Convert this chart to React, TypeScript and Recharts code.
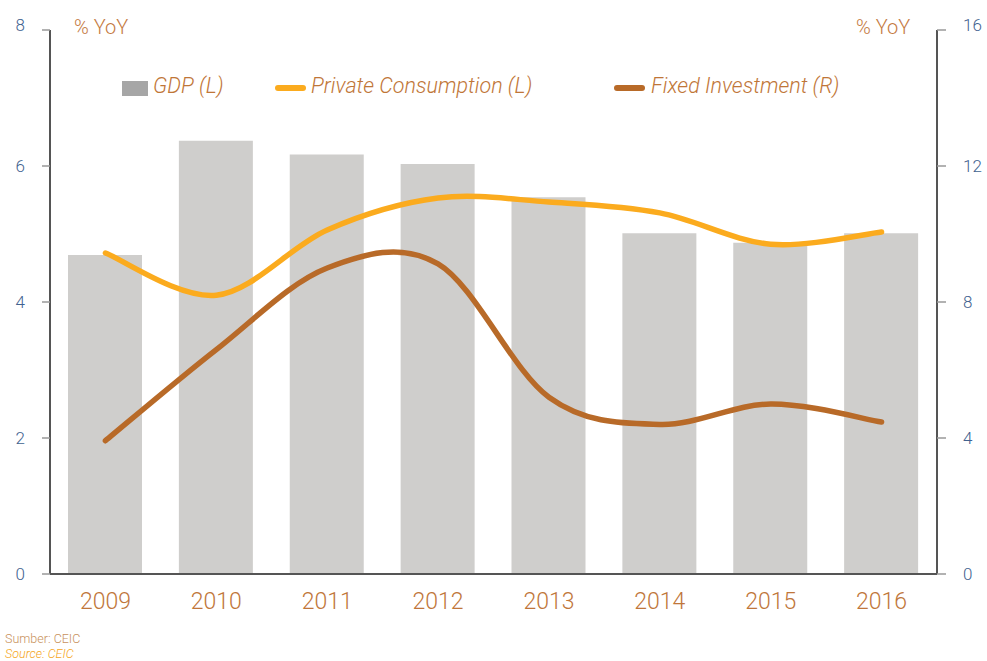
import React from "react"
import { ComposedChart, Bar, Line, XAxis, YAxis, Legend } from "recharts"

const years = ["2009", "2010", "2011", "2012", "2013", "2014", "2015", "2016"]
const gdp = [4.69, 6.37, 6.17, 6.03, 5.54, 5.01, 4.87, 5.01]
const consumption = [4.72, 4.1, 5.06, 5.53, 5.47, 5.31, 4.85, 5.03]
const fixedInvestment = [3.92, 6.6, 9.0, 9.12, 5.2, 4.4, 5.0, 4.47]
const leftTicks = [0, 2, 4, 6, 8]
const rightTicks = [0, 4, 8, 12, 16]

const FONT = "Roboto, 'Helvetica Neue', Arial, sans-serif"
const BROWN_TEXT = "#c0763a"
const AXIS_BLUE = "#41628f"
const GDP_COLOR = "#cfcecc"
const CONS_COLOR = "#fbab1e"
const FIXED_COLOR = "#b86a28"

const data = years.map((y, i) => ({
  year: y,
  gdp: gdp[i],
  consumption: consumption[i],
  fixed: fixedInvestment[i],
}))

// excel-like smoothed line (catmull-rom through the points)
const smoothCurve: any = (context: any) => {
  let pts: number[][] = []
  return {
    areaStart() {},
    areaEnd() {},
    lineStart() {
      pts = []
    },
    point(x: number, y: number) {
      pts.push([+x, +y])
    },
    lineEnd() {
      if (!pts.length) return
      context.moveTo(pts[0][0], pts[0][1])
      for (let i = 0; i < pts.length - 1; i++) {
        const p0 = pts[i - 1] || pts[i]
        const p1 = pts[i]
        const p2 = pts[i + 1]
        const p3 = pts[i + 2] || p2
        context.bezierCurveTo(
          p1[0] + (p2[0] - p0[0]) / 6,
          p1[1] + (p2[1] - p0[1]) / 6,
          p2[0] - (p3[0] - p1[0]) / 6,
          p2[1] - (p3[1] - p1[1]) / 6,
          p2[0],
          p2[1]
        )
      }
    },
  }
}

function AxisTick(props: any) {
  const { x, y, payload, textAnchor, max } = props
  const shift = payload.value === max ? -5 : 0
  return (
    <text x={x} y={y + shift} dy="0.355em" textAnchor={textAnchor} fill={AXIS_BLUE} fontSize={17} fontFamily={FONT} fontWeight={300}>
      {payload.value}
    </text>
  )
}

function LegendBox() {
  const txt = { fill: "#bf7638", fontSize: 21.5, fontStyle: "italic", fontFamily: FONT, fontWeight: 300 } as const
  return (
    <svg width={987} height={110} style={{ display: "block" }}>
      <rect x={122} y={81} width={26} height={15} fill="#a6a6a6" />
      <text x={153} y={93} {...txt}>GDP (L)</text>
      <line x1={278} y1={88} x2={303} y2={88} stroke={CONS_COLOR} strokeWidth={6} strokeLinecap="round" />
      <text x={311} y={93} {...txt}>Private Consumption (L)</text>
      <line x1={617} y1={88} x2={642} y2={88} stroke={FIXED_COLOR} strokeWidth={6} strokeLinecap="round" />
      <text x={651} y={93} {...txt}>Fixed Investment (R)</text>
    </svg>
  )
}

export default function App() {
  return (
    <div style={{ position: "relative", width: 987, height: 661, overflow: "hidden", background: "#fff" }}>
      <style>{`body{margin:0}`}</style>
      <ComposedChart width={987} height={661} data={data} margin={{ top: 30, right: 0, bottom: 47, left: 0 }}>
        <XAxis
          dataKey="year"
          axisLine={{ stroke: "#555", strokeWidth: 2 }}
          tickLine={false}
          tickSize={0}
          tickMargin={19}
          height={40}
          tick={{ fill: BROWN_TEXT, fontSize: 23, fontFamily: FONT, fontWeight: 300 }}
          interval={0}
        />
        <YAxis
          yAxisId="left"
          domain={[0, 8]}
          ticks={leftTicks}
          width={50}
          axisLine={{ stroke: "#555", strokeWidth: 2 }}
          tickLine={{ stroke: "#999", strokeWidth: 1.5 }}
          tickSize={8}
          tickMargin={17}
          tick={<AxisTick max={8} />}
        />
        <YAxis
          yAxisId="right"
          orientation="right"
          domain={[0, 16]}
          ticks={rightTicks}
          width={50}
          axisLine={{ stroke: "#555", strokeWidth: 2 }}
          tickLine={{ stroke: "#999", strokeWidth: 1.5 }}
          tickSize={9}
          tickMargin={17}
          tick={<AxisTick max={16} />}
        />
        <Legend
          layout="horizontal"
          verticalAlign="middle"
          align="center"
          wrapperStyle={{ top: 0, left: 0, width: 987, height: 110 }}
          content={() => <LegendBox />}
        />
        <Bar yAxisId="left" dataKey="gdp" name="GDP (L)" fill={GDP_COLOR} barSize={74} isAnimationActive={false} />
        <Line
          yAxisId="left"
          dataKey="consumption"
          name="Private Consumption (L)"
          type={smoothCurve}
          stroke={CONS_COLOR}
          strokeWidth={5.5}
          strokeLinecap="round"
          dot={false}
          activeDot={false}
          isAnimationActive={false}
        />
        <Line
          yAxisId="right"
          dataKey="fixed"
          name="Fixed Investment (R)"
          type={smoothCurve}
          stroke={FIXED_COLOR}
          strokeWidth={5.5}
          strokeLinecap="round"
          dot={false}
          activeDot={false}
          isAnimationActive={false}
        />
      </ComposedChart>
      <svg width={987} height={661} style={{ position: "absolute", top: 0, left: 0, pointerEvents: "none" }}>
        <text x={74} y={34} fill="#c47a3f" fontSize={20} fontFamily={FONT} fontWeight={300}>% YoY</text>
        <text x={856} y={34} fill="#c47a3f" fontSize={20} fontFamily={FONT} fontWeight={300}>% YoY</text>
        <text x={5} y={643} fill="#c8915c" fontSize={12.5} fontFamily={FONT} fontWeight={300}>Sumber: CEIC</text>
        <text x={5} y={658} fill="#f5a623" fontSize={12.5} fontStyle="italic" fontFamily={FONT} fontWeight={300}>Source: CEIC</text>
      </svg>
    </div>
  )
}
